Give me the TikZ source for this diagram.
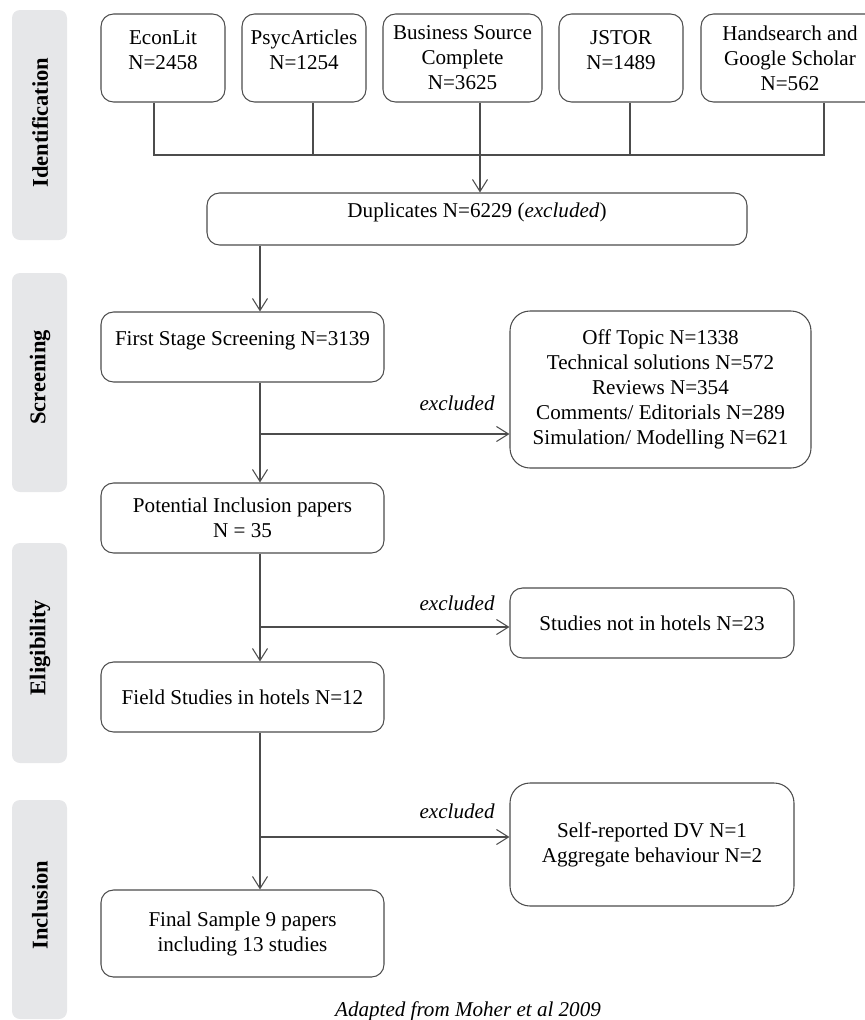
\documentclass[tikz,border=0pt]{standalone}
\usepackage{fontspec}
\setmainfont{Liberation Serif}
\usetikzlibrary{arrows.meta,positioning}
\definecolor{linegray}{gray}{0.3}
\definecolor{barfill}{RGB}{230,231,233}
\tikzset{
    box/.style={draw=linegray, line width=0.6pt, rounded corners=0.25cm, align=center, inner sep=2pt},
    bigbox/.style={box, rounded corners=0.4cm},
    link/.style={draw=linegray, line width=0.6pt},
    arr/.style={link, -{Straight Barb[length=2.4mm,width=3mm]}},
    phase/.style={rotate=90, font=\fontsize{12.8}{14}\selectfont\bfseries},
    exnote/.style={font=\fontsize{12}{14}\selectfont\itshape},
    raised/.style={text depth=10pt}
}

\begin{document}
\begin{tikzpicture}[font=\fontsize{12}{14.2}\selectfont]
    \useasboundingbox (0,0) rectangle (17.3,-20.4);
    \clip (0,0) rectangle (17.3,-20.4);
    % Phase bars
    \fill[barfill, rounded corners=0.16cm] (0.24,-0.2) rectangle (1.34,-4.8);
    \fill[barfill, rounded corners=0.16cm] (0.24,-5.46) rectangle (1.34,-9.84);
    \fill[barfill, rounded corners=0.16cm] (0.24,-10.86) rectangle (1.34,-15.26);
    \fill[barfill, rounded corners=0.16cm] (0.24,-16.0) rectangle (1.34,-20.38);
    \node[phase] (idlab) at (0.8,-2.45) {Identification};
    \node[phase] (scrlab) at (0.8,-7.55) {Screening};
    \node[phase] (elilab) at (0.8,-12.95) {Eligibility};
    \node[phase] (inclab) at (0.8,-18.1) {Inclusion};
    % Sources
    \node[box, minimum width=2.48cm, minimum height=1.76cm] (econ) at (3.26,-1.16) {EconLit\\N=2458\\[-9.5pt]\strut};
    \node[box, minimum width=2.48cm, minimum height=1.76cm] (psyc) at (6.08,-1.16) {PsycArticles\\N=1254\\[-9.5pt]\strut};
    \node[box, minimum width=3.18cm, minimum height=1.76cm] (bsc) at (9.25,-1.16) {Business Source\\Complete\\N=3625};
    \node[box, minimum width=2.48cm, minimum height=1.76cm] (jstor) at (12.42,-1.16) {JSTOR\\N=1489\\[-9.5pt]\strut};
    \node[box, minimum width=3.56cm, minimum height=1.76cm] (hand) at (15.8,-1.16) {Handsearch and\\Google Scholar\\N=562};
    % Merge line
    \coordinate (busL) at (3.08,-3.1);
    \coordinate (psycJ) at (6.26,-3.1);
    \coordinate (bscJ) at (9.6,-3.1);
    \coordinate (jstorJ) at (12.6,-3.1);
    \coordinate (busR) at (16.48,-3.1);
    \draw[link] (econ.south -| busL) -- (busL) -- (busR) -- (hand.south -| busR);
    \draw[link] (psyc.south -| psycJ) -- (psycJ);
    \draw[link] (jstor.south -| jstorJ) -- (jstorJ);
    % Main flow
    \node[box, raised, minimum width=10.8cm, minimum height=1.04cm] (dup) at (9.54,-4.38) {Duplicates N=6229 (\textit{excluded})};
    \node[box, raised, minimum width=5.66cm, minimum height=1.4cm] (first) at (4.85,-6.94) {First Stage Screening N=3139};
    \node[box, minimum width=5.66cm, minimum height=1.4cm] (pot) at (4.85,-10.36) {Potential Inclusion papers\\N = 35};
    \node[box, minimum width=5.66cm, minimum height=1.4cm] (field) at (4.85,-13.94) {Field Studies in hotels N=12};
    \node[box, minimum width=5.66cm, minimum height=1.74cm] (final) at (4.85,-18.67) {Final Sample 9 papers\\including 13 studies};
    % Exclusions
    \node[bigbox, minimum width=6.02cm, minimum height=3.14cm] (off) at (13.21,-7.79) {Off Topic N=1338\\Technical solutions N=572\\Reviews N=354\\Comments/ Editorials N=289\\Simulation/ Modelling N=621};
    \node[box, minimum width=5.68cm, minimum height=1.4cm] (notin) at (13.04,-12.46) {Studies not in hotels N=23};
    \node[bigbox, minimum width=5.68cm, minimum height=2.46cm] (self) at (13.04,-16.89) {Self-reported DV N=1\\Aggregate behaviour N=2};
    % Arrows
    \coordinate (trunk) at (5.2,-3.1);
    \draw[arr] (bsc.south -| bscJ) -- (dup.north -| bscJ);
    \draw[arr] (dup.south -| trunk) -- (first.north -| trunk);
    \draw[arr] (first.south -| trunk) -- (pot.north -| trunk);
    \draw[arr] (pot.south -| trunk) -- (field.north -| trunk);
    \draw[arr] (field.south -| trunk) -- (final.north -| trunk);
    \coordinate (ex1) at (5.2,-8.68);
    \coordinate (ex2) at (5.2,-12.54);
    \coordinate (ex3) at (5.2,-16.74);
    \draw[arr] (ex1) -- node[exnote, pos=0.79, above=0.33cm] (ex1lab) {excluded} (ex1 -| off.west);
    \draw[arr] (ex2) -- node[exnote, pos=0.79, above=0.2cm] (ex2lab) {excluded} (ex2 -| notin.west);
    \draw[arr] (ex3) -- node[exnote, pos=0.79, above=0.24cm] (ex3lab) {excluded} (ex3 -| self.west);
    % Source note
    \node[exnote, anchor=base] (src) at (9.36,-20.32) {Adapted from Moher et al 2009};
\end{tikzpicture}
\end{document}
